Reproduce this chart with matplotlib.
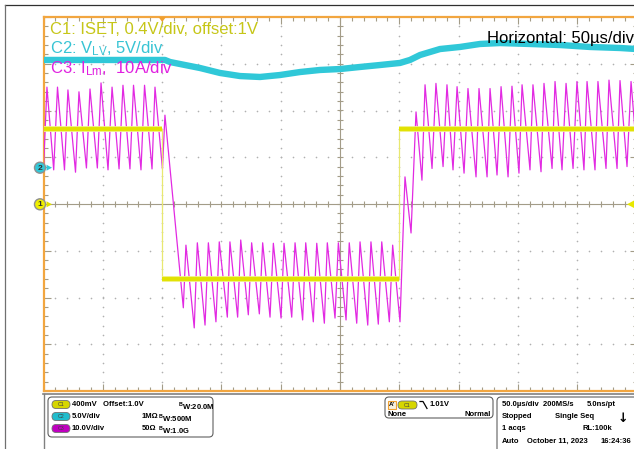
import numpy as np
import matplotlib.pyplot as plt
from matplotlib.ticker import MultipleLocator
from matplotlib.patches import FancyBboxPatch, Circle, Polygon, Rectangle

plt.rcParams['font.family'] = ['Liberation Sans', 'DejaVu Sans']
plt.rcParams['mathtext.fontset'] = 'custom'
plt.rcParams['mathtext.rm'] = 'Liberation Sans'
plt.rcParams['mathtext.bf'] = 'Liberation Sans:bold'

W, H = 634, 449

# scope settings
c1_scale, c1_offset = 0.4, 1.0   # V/div, V
c2_scale, c2_pos = 5.0, 0.777    # V/div, ground marker (div)
c3_scale = 10.0                  # A/div

# C1: ISET (V)
iset_t = [-250, -150, -150, 50, 50, 250]
iset_v = [1.64, 1.64, 0.36, 0.36, 1.64, 1.64]

# C2: V_LV (V)
vlv_t = [-250, -147.6, -143.3, -130.7, -118.0, -101.2, -84.3, -67.5, -50.6, -33.7,
         -16.9, 0, 16.9, 33.7, 50.6, 59.0, 67.5, 75.9, 84.3, 101.2,
         118.0, 134.9, 160.2, 185.5, 210.8, 236.1, 250]
vlv_v = [11.52, 11.52, 11.30, 10.98, 10.66, 10.13, 9.80, 9.70, 9.91, 10.23,
         10.45, 10.55, 10.77, 10.98, 11.20, 11.52, 12.05, 12.37, 12.69, 12.91,
         13.23, 13.33, 13.23, 13.12, 12.91, 12.80, 12.69]

# C3: I_Lm (A), turning points of the ripple
ilm_t = [-250.0, -247.1, -241.4, -238.2, -232.3, -229.4, -223.0, -220.1, -213.8, -210.8,
         -204.6, -201.5, -195.6, -192.2, -186.3, -183.0, -177.1, -174.1, -167.8, -164.8,
         -158.5, -156.0, -149.7, -147.6, -132.1, -129.9, -122.9, -120.3, -113.8, -111.0,
         -104.6, -101.8, -95.0, -92.8, -86.3, -83.7, -77.3, -74.5, -68.0, -65.2,
         -59.0, -56.2, -49.7, -47.2, -40.7, -37.9, -31.5, -28.9, -22.5, -19.6,
         -13.2, -10.7, -4.2, -1.4, 5.1, 7.8, 14.1, 16.9, 23.4, 26.1,
         32.3, 35.2, 41.6, 44.4, 50.6, 54.8, 59.9, 64.1, 69.1, 71.7,
         77.6, 80.9, 86.9, 90.2, 95.3, 98.7, 104.6, 107.9, 114.7, 117.2,
         124.0, 126.5, 132.4, 135.8, 141.7, 145.0, 150.9, 153.5, 160.2, 162.7,
         169.5, 172.0, 178.8, 181.3, 187.2, 190.6, 196.5, 199.8, 205.7, 208.3,
         215.0, 217.5, 224.3, 226.8, 233.6, 236.1, 242.0, 245.4, 251.3]
ilm_a = [7.5, 25.0, 7.3, 25.0, 7.3, 24.4, 6.8, 24.0, 7.7, 24.6,
         7.7, 25.9, 7.3, 25.0, 7.5, 25.4, 7.5, 25.4, 7.3, 25.4,
         7.5, 25.0, 7.5, 19.0, -22.2, -8.8, -26.5, -8.3, -25.9, -8.3,
         -25.2, -8.1, -24.2, -8.1, -24.2, -7.7, -23.7, -8.3, -23.5, -8.3,
         -24.2, -8.4, -24.4, -8.4, -24.2, -8.3, -24.8, -8.3, -25.2, -8.4,
         -25.5, -8.3, -24.4, -8.3, -24.8, -8.3, -25.5, -8.1, -25.9, -8.1,
         -25.7, -8.1, -25.2, -8.8, -25.2, 5.8, -6.2, 19.7, 5.1, 25.5,
         7.6, 25.8, 8.0, 25.5, 7.3, 25.1, 6.6, 24.7, 5.8, 24.7,
         5.8, 24.7, 6.2, 25.1, 5.8, 25.2, 6.6, 25.5, 7.3, 25.5,
         6.9, 25.8, 7.6, 26.2, 7.3, 25.8, 7.6, 26.2, 7.3, 26.2,
         7.3, 26.2, 7.6, 26.5, 7.6, 26.4, 8.0, 26.2, 7.6]

c1_div = (np.array(iset_v) - c1_offset) / c1_scale
c2_div = np.array(vlv_v) / c2_scale + c2_pos
c3_div = np.array(ilm_a) / c3_scale

fig = plt.figure(figsize=(W / 100, H / 100), dpi=100)
ax = fig.add_axes([43.5 / W, 1 - 391 / H, 593 / W, 374 / H])
ax.set_xlim(-250, 250)
ax.set_ylim(-4, 4)

# graticule
grid_c = '#b0b0b0'
for xd in [-200, -150, -100, -50, 50, 100, 150, 200]:
    yy = np.arange(-4, 4.001, 0.2)
    ax.plot(np.full_like(yy, xd), yy, ls='', marker='o', ms=1.2, mec='none', mfc=grid_c, zorder=1)
for yd in [-3, -2, -1, 1, 2, 3]:
    xx = np.arange(-250, 250.01, 10)
    ax.plot(xx, np.full_like(xx, yd), ls='', marker='o', ms=1.2, mec='none', mfc=grid_c, zorder=1)
cross_c = '#a39c88'
ax.axhline(0, color=cross_c, lw=0.8, zorder=1)
ax.axvline(0, color=cross_c, lw=0.8, zorder=1)
xx = np.arange(-250, 250.01, 10)
ax.plot(xx, np.zeros_like(xx), ls='', marker='|', ms=4, mew=0.8, color=cross_c, zorder=1)
yy = np.arange(-4, 4.001, 0.2)
ax.plot(np.zeros_like(yy), yy, ls='', marker='_', ms=4, mew=0.8, color=cross_c, zorder=1)

ax.xaxis.set_major_locator(MultipleLocator(50))
ax.xaxis.set_minor_locator(MultipleLocator(10))
ax.yaxis.set_major_locator(MultipleLocator(1))
ax.yaxis.set_minor_locator(MultipleLocator(0.2))
ax.tick_params(which='both', direction='in', colors=cross_c, top=True, right=True,
               labelleft=False, labelbottom=False, width=0.8)
ax.tick_params(which='major', length=5)
ax.tick_params(which='minor', length=2.8)
for s in ax.spines.values():
    s.set_color('#f2a640')
    s.set_linewidth(1.6)

# traces
ax.plot(vlv_t, c2_div, color='#30c8d8', lw=4.6, solid_capstyle='butt', zorder=3)
ax.plot(ilm_t, c3_div, color='#e22ae2', lw=0.9, zorder=4)
ax.plot(iset_t, c1_div, color='#e8e870', lw=0.9, zorder=5)
for i in range(len(iset_t) - 1):
    if iset_v[i] == iset_v[i + 1]:
        ax.plot(iset_t[i:i + 2], c1_div[i:i + 2], color='#f0f080', lw=4.2,
                solid_capstyle='butt', zorder=5)
        ax.plot(iset_t[i:i + 2], c1_div[i:i + 2], color='#e2e200', lw=2.8,
                solid_capstyle='butt', zorder=5)

# overlay in pixel coordinates
ov = fig.add_axes([0, 0, 1, 1], zorder=10)
ov.set_xlim(0, W)
ov.set_ylim(H, 0)
ov.axis('off')
ov.patch.set_alpha(0)

ov.plot([5, W], [5, 5], color='#303030', lw=0.9)
ov.plot([5, 5], [5, H], color='#707070', lw=0.9)

ov.text(50, 29, 'C1: ISET, 0.4V/div, offset:1V', color='#c6c618', fontsize=12, va='center')
ov.text(50, 49, r'C2: V$\mathregular{_{LV}}$, 5V/div', color='#38c4d4', fontsize=12, va='center')
ov.text(50, 69, r'C3: I$\mathregular{_{Lm}}$,  10A/div', color='#e020e0', fontsize=12, va='center')
ov.text(487, 39, 'Horizontal: 50µs/div', color='black', fontsize=12, va='center')

# channel markers
for yc, fc, ac, lab in [(167.7, '#30c8d8', '#30c8d8', '2'), (204.3, '#f0f000', '#e0e000', '1')]:
    ov.add_patch(Circle((40, yc), 5.5, fc=fc, ec='#909090', lw=1.0))
    ov.text(40, yc + 0.5, lab, fontsize=6, fontweight='bold', ha='center', va='center', color='#303030')
    ov.add_patch(Polygon([[46.5, yc - 3], [52, yc], [46.5, yc + 3]], closed=True, fc=ac, ec='none'))
ov.add_patch(Polygon([[634, 200.5], [627, 204.3], [634, 208]], closed=True, fc='#e8e800', ec='none'))
ov.add_patch(Polygon([[158.5, 17], [166, 17], [162.2, 22]], closed=True, fc='#f0a030', ec='none'))

# status panel
ov.plot([43, W], [394, 394], color='#808080', lw=1.2)
ov.plot([44, 44], [394, H], color='#808080', lw=1.0)
ov.add_patch(FancyBboxPatch((48, 397), 165, 40, boxstyle='round,pad=0,rounding_size=4',
                            fc='white', ec='#606060', lw=0.8))
ov.add_patch(FancyBboxPatch((385, 397), 108, 21, boxstyle='round,pad=0,rounding_size=4',
                            fc='white', ec='#606060', lw=0.8))
ov.add_patch(FancyBboxPatch((497, 397), 150, 60, boxstyle='round,pad=0,rounding_size=4',
                            fc='white', ec='#606060', lw=0.8))

fs = 5.5
bw = r'$^{\mathbf{B}}$W:'
pills = [(404.5, '#d6d600', 'C1'), (416.5, '#20bccc', 'C2'), (428.5, '#c000c0', 'C3')]
for yc, pc, lab in pills:
    ov.add_patch(FancyBboxPatch((52, yc - 4), 18, 8, boxstyle='round,pad=0,rounding_size=4',
                                fc=pc, ec='#707070', lw=0.6))
    ov.text(61, yc + 0.3, lab, fontsize=3.8, ha='center', va='center', color='#404040')
ov.text(72, 404.5, '400mV   Offset:1.0V', fontsize=fs, fontweight='bold', va='center')
ov.text(178, 405.5, bw + '20.0M', fontsize=fs, fontweight='bold', va='center')
ov.text(72, 416.5, '5.0V/div', fontsize=fs, fontweight='bold', va='center')
ov.text(142, 416.5, '1MΩ', fontsize=fs, fontweight='bold', va='center')
ov.text(158, 417.5, bw + '500M', fontsize=fs, fontweight='bold', va='center')
ov.text(72, 428.5, '10.0V/div', fontsize=fs, fontweight='bold', va='center')
ov.text(142, 428.5, '50Ω', fontsize=fs, fontweight='bold', va='center')
ov.text(158, 429.5, bw + '1.0G', fontsize=fs, fontweight='bold', va='center')

# trigger box
ov.add_patch(Rectangle((388, 401), 8, 8, fc='#f6f0e0', ec='#f0a030', lw=0.8))
ov.text(392, 405, "A'", fontsize=4.5, fontweight='bold', ha='center', va='center')
ov.add_patch(FancyBboxPatch((398, 401), 19, 8, boxstyle='round,pad=0,rounding_size=4',
                            fc='#d6d600', ec='#707070', lw=0.6))
ov.text(407.5, 405.3, 'C1', fontsize=3.8, ha='center', va='center', color='#404040')
ov.plot([420, 423, 427], [401.5, 401.5, 408.5], color='black', lw=0.9)
ov.text(430, 405, '1.01V', fontsize=fs, fontweight='bold', va='center')
ov.text(387, 414, 'None', fontsize=fs, fontweight='bold', va='center')
ov.text(491, 414, 'Normal', fontsize=fs, fontweight='bold', va='center', ha='right')

# acquisition box
ov.text(502, 404.5, '50.0µs/div  200MS/s', fontsize=fs, fontweight='bold', va='center')
ov.text(616, 404.5, '5.0ns/pt', fontsize=fs, fontweight='bold', va='center', ha='right')
ov.text(502, 417, 'Stopped', fontsize=fs, fontweight='bold', va='center')
ov.text(555, 417, 'Single Seq', fontsize=fs, fontweight='bold', va='center')
ov.text(623, 418, '↓', fontsize=9, fontweight='bold', va='center', ha='center', family='DejaVu Sans')
ov.text(502, 429, '1 acqs', fontsize=fs, fontweight='bold', va='center')
ov.text(612, 429, 'RL:100k', fontsize=fs, fontweight='bold', va='center', ha='right')
ov.text(502, 441.5, 'Auto', fontsize=fs, fontweight='bold', va='center')
ov.text(527, 441.5, 'October 11, 2023', fontsize=fs, fontweight='bold', va='center')
ov.text(631, 441.5, '16:24:36', fontsize=fs, fontweight='bold', va='center', ha='right')

fig.savefig('out.png', dpi=100)
